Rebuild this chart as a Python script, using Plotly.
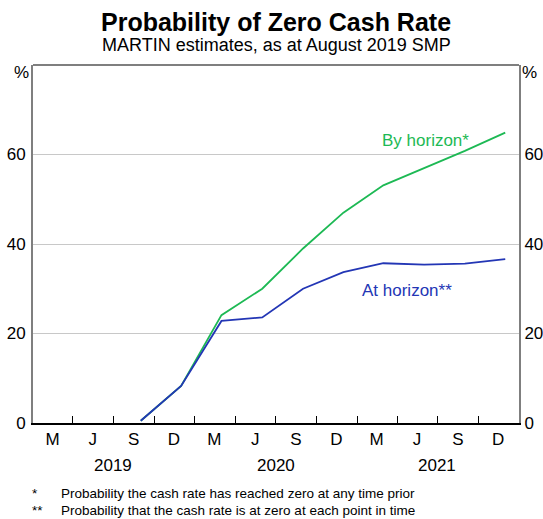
import plotly.graph_objects as go

# Data
dates = ["2019-09-01", "2019-12-01", "2020-03-01", "2020-06-01", "2020-09-01",
         "2020-12-01", "2021-03-01", "2021-06-01", "2021-09-01", "2021-12-01"]
by_horizon = [0.5, 8.3, 24.1, 30.0, 39.0, 47.0, 53.1, 57.0, 60.8, 64.9]
at_horizon = [0.5, 8.3, 22.8, 23.6, 30.0, 33.7, 35.7, 35.4, 35.6, 36.6]

quarter_labels = ["M", "J", "S", "D"] * 3
quarter_mid = ["2019-02-14", "2019-05-16", "2019-08-16", "2019-11-15",
               "2020-02-14", "2020-05-16", "2020-08-16", "2020-11-15",
               "2021-02-14", "2021-05-16", "2021-08-16", "2021-11-15"]
quarter_bounds = ["2019-04-01", "2019-07-01", "2019-10-01", "2020-01-01",
                  "2020-04-01", "2020-07-01", "2020-10-01", "2021-01-01",
                  "2021-04-01", "2021-07-01", "2021-10-01"]
years = ["2019", "2020", "2021"]
year_mid = ["2019-07-01", "2020-07-01", "2021-07-01"]
y_ticks = [0, 20, 40, 60]

GREEN = "#1db954"
BLUE = "#2336b5"
FONT = "Liberation Sans, Arial, sans-serif"

fig = go.Figure()
fig.add_trace(go.Scatter(x=dates, y=by_horizon, mode="lines",
                         line=dict(color=GREEN, width=1.8), showlegend=False))
fig.add_trace(go.Scatter(x=dates, y=at_horizon, mode="lines",
                         line=dict(color=BLUE, width=1.8), showlegend=False))
# invisible trace for right axis
fig.add_trace(go.Scatter(x=[dates[0]], y=[0], yaxis="y2", mode="markers",
                         marker=dict(opacity=0), showlegend=False, hoverinfo="skip"))

fig.update_layout(
    width=543, height=519,
    margin=dict(l=33, r=24, t=65, b=96, autoexpand=False),
    paper_bgcolor="white", plot_bgcolor="white",
    font=dict(family=FONT, color="black", size=17),
    xaxis=dict(type="date", range=["2019-01-01", "2022-01-01"], automargin=False,
               tickmode="array", tickvals=quarter_mid, ticktext=quarter_labels,
               ticks="", showgrid=False, zeroline=False,
               showline=True, linecolor="black", linewidth=1.5,
               tickfont=dict(size=17, family=FONT),
               minor=dict(tickmode="array", tickvals=quarter_bounds, ticks="inside",
                          ticklen=7, tickcolor="black", tickwidth=1, showgrid=False)),
    yaxis=dict(range=[0, 80], tickvals=y_ticks, ticks="", showgrid=True, automargin=False,
               gridcolor="#c8c8c8", gridwidth=1, zeroline=False,
               showline=True, linecolor="#7f7f7f", linewidth=2,
               tickfont=dict(size=17, family=FONT), ticklabelstandoff=2),
    yaxis2=dict(range=[0, 80], tickvals=y_ticks, overlaying="y", side="right",
                ticks="", showgrid=False, zeroline=False, automargin=False,
                showline=True, linecolor="#7f7f7f", linewidth=2,
                tickfont=dict(size=17, family=FONT), ticklabelstandoff=0),
)

# top border
fig.add_shape(type="line", xref="paper", yref="paper", x0=0, x1=1, y0=1, y1=1,
              line=dict(color="black", width=1.2))


def pix_y(py):
    # convert page pixel y to paper coord
    return (423 - py) / (423 - 65)


def pix_x(px):
    return (px - 33) / (519 - 33)


fig.add_annotation(text="<b>Probability of Zero Cash Rate</b>", x=pix_x(276), xref="paper",
                   y=pix_y(22), yref="paper", showarrow=False, font=dict(size=25),
                   xanchor="center", yanchor="middle")
fig.add_annotation(text="MARTIN estimates, as at August 2019 SMP", x=pix_x(276), xref="paper",
                   y=pix_y(45), yref="paper", showarrow=False, font=dict(size=18),
                   xanchor="center", yanchor="middle")
fig.add_annotation(text="%", x=pix_x(21), xref="paper", y=pix_y(73), yref="paper",
                   showarrow=False, font=dict(size=17), xanchor="center", yanchor="middle")
fig.add_annotation(text="%", x=pix_x(529.5), xref="paper", y=pix_y(73), yref="paper",
                   showarrow=False, font=dict(size=17), xanchor="center", yanchor="middle")
for y, yr in zip(year_mid, years):
    fig.add_annotation(text=yr, x=y, xref="x", y=pix_y(465), yref="paper",
                       showarrow=False, font=dict(size=17), yanchor="middle")
fig.add_annotation(text="By horizon*", x=pix_x(425.5), xref="paper", y=pix_y(140),
                   yref="paper", showarrow=False, font=dict(size=17, color=GREEN),
                   xanchor="center", yanchor="middle")
fig.add_annotation(text="At horizon**", x=pix_x(407), xref="paper", y=pix_y(290),
                   yref="paper", showarrow=False, font=dict(size=17, color=BLUE),
                   xanchor="center", yanchor="middle")
fig.add_annotation(text="*", x=pix_x(30), xref="paper", y=pix_y(493), yref="paper",
                   showarrow=False, font=dict(size=13.5), xanchor="left", yanchor="middle")
fig.add_annotation(text="Probability the cash rate has reached zero at any time prior",
                   x=pix_x(59), xref="paper", y=pix_y(493), yref="paper",
                   showarrow=False, font=dict(size=13.5), xanchor="left", yanchor="middle")
fig.add_annotation(text="**", x=pix_x(30), xref="paper", y=pix_y(510), yref="paper",
                   showarrow=False, font=dict(size=13.5), xanchor="left", yanchor="middle")
fig.add_annotation(text="Probability that the cash rate is at zero at each point in time",
                   x=pix_x(59), xref="paper", y=pix_y(510), yref="paper",
                   showarrow=False, font=dict(size=13.5), xanchor="left", yanchor="middle")

fig.write_html("out.html", config={"displayModeBar": False},
               post_script="document.body.style.margin='0';document.body.style.overflow='hidden';")
